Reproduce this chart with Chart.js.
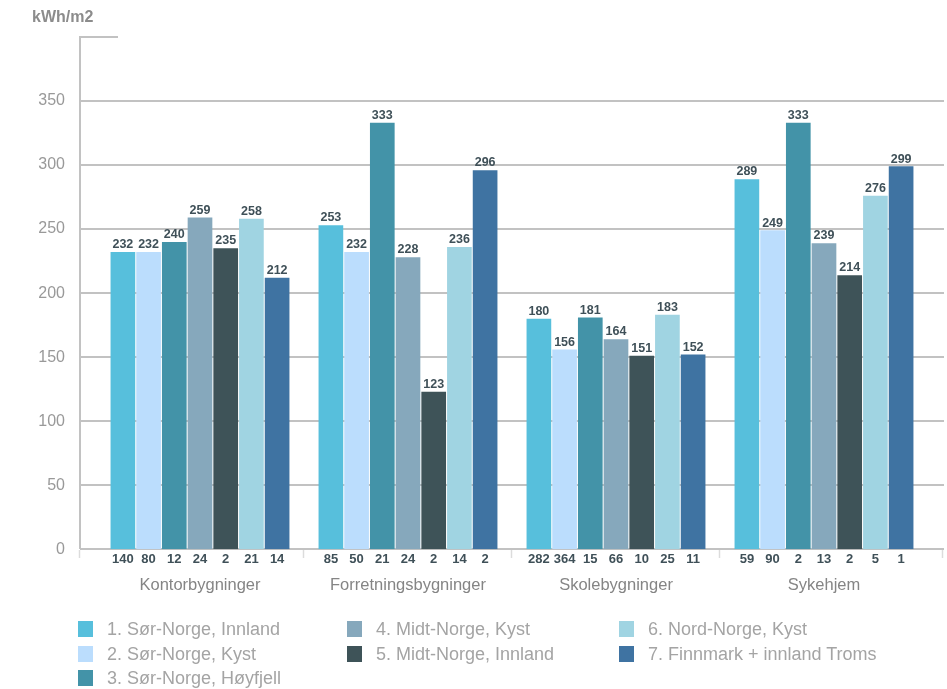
<!DOCTYPE html>
<html>
<head>
<meta charset="utf-8">
<script src="https://cdn.jsdelivr.net/npm/chart.js@4/dist/chart.umd.min.js"></script>
<style>
  html, body { margin: 0; padding: 0; background: #fff; }
  #wrap { position: relative; width: 947px; height: 689px; }
  #unit { position: absolute; left: 32px; top: 8px; font: bold 16px "Liberation Sans", Arial, sans-serif; color: #8c8c8c; }
  #legend { position: absolute; left: 0; top: 0; width: 947px; height: 689px; pointer-events: none;
            font: 18px "Liberation Sans", Arial, sans-serif; color: #a4a4a4; }
  .item { position: absolute; height: 16px; line-height: 16px; white-space: nowrap; }
  .item span { position: absolute; left: 0; top: 0; width: 15px; height: 16px; }
  .item b { position: absolute; top: 0; font-weight: normal; }
</style>
</head>
<body>
<div id="wrap">
  <canvas id="c" width="947" height="689"></canvas>
  <div id="unit">kWh/m2</div>
  <div id="legend"></div>
</div>
<script>
const kategorier = ['Kontorbygninger', 'Forretningsbygninger', 'Skolebygninger', 'Sykehjem'];

const regioner = [
  '1. Sør-Norge, Innland',
  '2. Sør-Norge, Kyst',
  '3. Sør-Norge, Høyfjell',
  '4. Midt-Norge, Kyst',
  '5. Midt-Norge, Innland',
  '6. Nord-Norge, Kyst',
  '7. Finnmark + innland Troms'
];

const farger = ['#57bfdc', '#bbddfd', '#4393a8', '#86a8bc', '#3e5358', '#a0d4e2', '#3f73a2'];

// spesifikt energiforbruk per region, en verdi per kategori
const forbruk = [
  [232, 253, 180, 289],
  [232, 232, 156, 249],
  [240, 333, 181, 333],
  [259, 228, 164, 239],
  [235, 123, 151, 214],
  [258, 236, 183, 276],
  [212, 296, 152, 299]
];

// antall bygg i utvalget
const antall = [
  [140, 85, 282, 59],
  [80, 50, 364, 90],
  [12, 21, 15, 2],
  [24, 24, 66, 13],
  [2, 2, 10, 2],
  [21, 14, 25, 5],
  [14, 2, 11, 1]
];

const yTicks = [0, 50, 100, 150, 200, 250, 300, 350];
const yMax = 400;

const FONT = '"Liberation Sans", Arial, sans-serif';
const LINE = '#c2c2c2';
const MORK = '#3f5058';

// akser, rutenett og tall over/under søylene
const rammePlugin = {
  id: 'ramme',
  beforeDatasetsDraw(chart) {
    const { ctx, scales: { x, y } } = chart;
    const left = 80, right = 944;
    ctx.save();
    ctx.strokeStyle = LINE;
    ctx.lineWidth = 2;
    yTicks.forEach(v => {
      const py = Math.round(y.getPixelForValue(v));
      ctx.beginPath();
      ctx.moveTo(left, py);
      ctx.lineTo(right, py);
      ctx.stroke();
    });
    const top = Math.round(y.getPixelForValue(yMax));
    const bunn = Math.round(y.getPixelForValue(0));
    ctx.beginPath();
    ctx.moveTo(left, bunn);
    ctx.lineTo(left, top);
    ctx.lineTo(118, top);
    ctx.stroke();
    // små skillestreker mellom kategoriene
    ctx.strokeStyle = '#dcdcdc';
    ctx.lineWidth = 1.5;
    const grenser = [left, right - 1];
    for (let i = 0; i < kategorier.length - 1; i++) {
      grenser.push((x.getPixelForValue(i) + x.getPixelForValue(i + 1)) / 2);
    }
    grenser.forEach(gx => {
      ctx.beginPath();
      ctx.moveTo(Math.round(gx) - 0.5, bunn + 1);
      ctx.lineTo(Math.round(gx) - 0.5, bunn + 9);
      ctx.stroke();
    });
    ctx.restore();
  },
  afterDatasetsDraw(chart) {
    const { ctx, scales: { y } } = chart;
    const bunn = y.getPixelForValue(0);
    ctx.save();
    ctx.fillStyle = MORK;
    ctx.textAlign = 'center';
    chart.data.datasets.forEach((ds, di) => {
      chart.getDatasetMeta(di).data.forEach((bar, i) => {
        ctx.font = 'bold 12.5px ' + FONT;
        ctx.textBaseline = 'bottom';
        ctx.fillText(ds.data[i], bar.x, bar.y - 1);
        ctx.font = 'bold 13px ' + FONT;
        ctx.textBaseline = 'middle';
        ctx.fillText(antall[di][i], bar.x, bunn + 10);
      });
    });
    ctx.restore();
  }
};

const chart = new Chart(document.getElementById('c'), {
  type: 'bar',
  data: {
    labels: kategorier,
    datasets: regioner.map((navn, i) => ({
      label: navn,
      data: forbruk[i],
      backgroundColor: farger[i],
      borderWidth: 0,
      barPercentage: 0.96,
      categoryPercentage: 0.865
    }))
  },
  options: {
    responsive: false,
    animation: false,
    layout: { padding: { left: 0, right: 19, top: 37, bottom: 68 } },
    plugins: { legend: { display: false }, tooltip: { enabled: false } },
    scales: {
      x: {
        grid: { display: false, drawTicks: false },
        border: { display: false },
        ticks: { padding: 26, color: '#858585', font: { family: FONT, size: 16.5 } }
      },
      y: {
        min: 0,
        max: yMax,
        afterBuildTicks: s => { s.ticks = yTicks.map(v => ({ value: v })); },
        afterFit: s => { s.width = 96; s.paddingTop = 0; s.paddingBottom = 0; },
        grid: { display: false, drawTicks: false },
        border: { display: false },
        ticks: { padding: 31, color: '#999', font: { family: FONT, size: 16 } }
      }
    }
  },
  plugins: [rammePlugin]
});

// forklaring i tre kolonner
const kolonner = [78, 347, 619];
const rader = [621, 645.5, 670];
const plassering = [[0, 0], [0, 1], [0, 2], [1, 0], [1, 1], [2, 0], [2, 1]];
const legend = document.getElementById('legend');
regioner.forEach((navn, i) => {
  const [k, r] = plassering[i];
  const el = document.createElement('div');
  el.className = 'item';
  el.style.left = kolonner[k] + 'px';
  el.style.top = rader[r] + 'px';
  el.innerHTML = `<span style="background:${farger[i]}"></span><b style="left:29px">${navn}</b>`;
  legend.appendChild(el);
});
</script>
</body>
</html>
